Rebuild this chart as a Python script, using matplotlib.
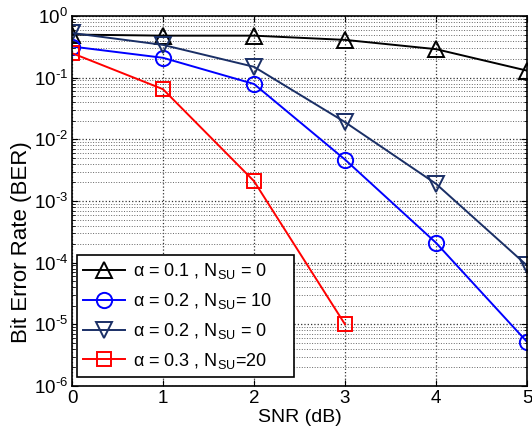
import numpy as np
import matplotlib
matplotlib.use('Agg')
import matplotlib.pyplot as plt
from matplotlib.ticker import LogLocator, NullFormatter, FuncFormatter

plt.rcParams['font.family'] = ['Liberation Sans', 'DejaVu Sans']
plt.rcParams['mathtext.fontset'] = 'custom'
plt.rcParams['mathtext.rm'] = 'Liberation Sans'
plt.rcParams['mathtext.it'] = 'Liberation Sans'

snr = [0, 1, 2, 3, 4, 5]
ber_a01_n0 = [0.50, 0.48, 0.48, 0.41, 0.29, 0.13]
ber_a02_n10 = [0.32, 0.21, 0.079, 0.0047, 0.00021, 0.0000052]
ber_a02_n0 = [0.53, 0.34, 0.15, 0.019, 0.0019, 0.00009]
snr_a03 = [0, 1, 2, 3]
ber_a03_n20 = [0.25, 0.065, 0.0021, 0.00001]

labels = [r'$\alpha$ = 0.1 , N$_{\mathrm{SU}}$ = 0    ',
          r'$\alpha$ = 0.2 , N$_{\mathrm{SU}}$= 10    ',
          r'$\alpha$ = 0.2 , N$_{\mathrm{SU}}$ = 0    ',
          r'$\alpha$ = 0.3 , N$_{\mathrm{SU}}$=20    ']


def pow10_label(v, pos):
    "10^k tick label with a short hyphen as MATLAB draws it"
    k = int(round(np.log10(v)))
    if k < 0:
        return r'$10^{\text{-%d}}$' % (-k)
    return r'$10^{%d}$' % k


fig = plt.figure(figsize=(5.32, 4.34), dpi=100)
ax = fig.add_axes([72 / 532, 1 - 386 / 434, 455 / 532, 370 / 434])

common = dict(linewidth=1.4, markerfacecolor='none', markeredgewidth=1.4)
ax.semilogy(snr, ber_a01_n0, color='black', marker='^', markersize=12,
            label=labels[0], **common)
ax.semilogy(snr, ber_a02_n10, color='#0000ff', marker='o', markersize=11,
            label=labels[1], **common)
ax.semilogy(snr, ber_a02_n0, color='#1a2f66', marker='v', markersize=12,
            label=labels[2], **common)
ax.semilogy(snr_a03, ber_a03_n20, color='#ff0000', marker='s', markersize=10,
            label=labels[3], **common)

ax.set_xlim(0, 5)
ax.set_ylim(1e-6, 1)
ax.set_xticks(snr)
ax.yaxis.set_major_locator(LogLocator(base=10, numticks=10))
ax.yaxis.set_major_formatter(FuncFormatter(pow10_label))
ax.yaxis.set_minor_locator(LogLocator(base=10, subs=np.arange(2, 10), numticks=20))
ax.yaxis.set_minor_formatter(NullFormatter())

ax.grid(True, which='major', color='0.2', linestyle=':', linewidth=0.9)
ax.grid(True, which='minor', axis='y', color='0.4', linestyle=':', linewidth=0.7)
ax.tick_params(which='both', direction='in', top=True, right=True, labelsize=13.5)
ax.tick_params(which='major', length=4, pad=3)
ax.tick_params(which='minor', length=2)
for spine in ax.spines.values():
    spine.set_linewidth(1.2)

ax.set_xlabel('SNR (dB)', fontsize=14, labelpad=1)
ax.set_ylabel('Bit Error Rate (BER)', fontsize=16)
ax.yaxis.set_label_coords(-0.088, 0.39)

leg = ax.legend(loc='lower left', fontsize=13, handlelength=2.3,
                fancybox=False, framealpha=1, edgecolor='black',
                borderpad=0.35, labelspacing=0.55, handletextpad=0.45,
                borderaxespad=0.0, bbox_to_anchor=(0.011, 0.024))
leg.get_frame().set_linewidth(1.2)

fig.savefig('out.png', dpi=100)
